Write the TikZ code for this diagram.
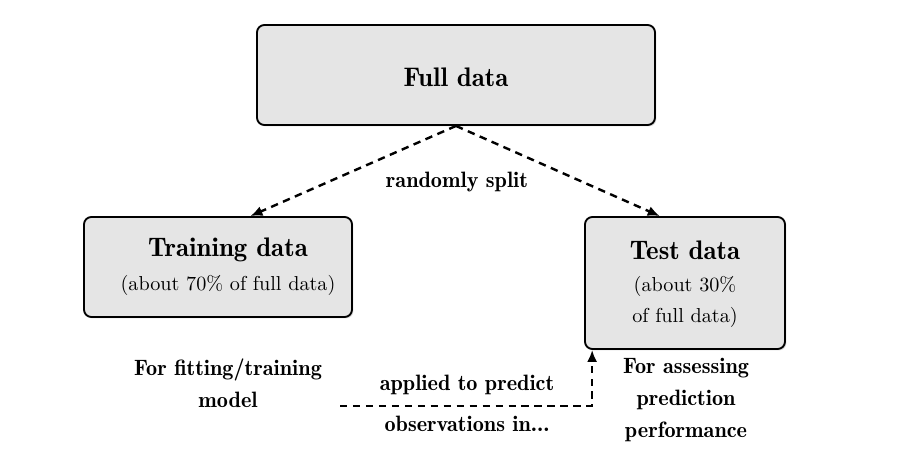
\documentclass[tikz,border=0pt]{standalone}
\usetikzlibrary{arrows.meta,calc,shadows}
\begin{document}
\begin{tikzpicture}[x=0.54pt,y=-0.54pt,
  databox/.style={draw=black,line width=1pt,rounded corners=4pt,fill=black!10,
    drop shadow={opacity=0.25,shadow xshift=0.8pt,shadow yshift=-0.8pt},
    align=center,inner sep=0pt},
  head/.style={font=\fontsize{14.5}{15}\fontseries{b}\selectfont},
  sub/.style={font=\fontsize{10.9}{17}\selectfont},
  lbl/.style={font=\fontsize{12}{17.5}\fontseries{b}\selectfont,align=center},
  dasharrow/.style={line width=1.3pt,dash pattern=on 4pt off 3pt,-{Latex[length=6.5pt,width=5.5pt]}}]
\useasboundingbox (0,0) rectangle (906,475);
\node[databox,minimum width=398*0.54pt,minimum height=100*0.54pt] (full) at (456,75) {};
\node[head] (fulltxt) at (456,77) {Full data};
\node[databox,minimum width=268*0.54pt,minimum height=100*0.54pt] (train) at (218,267) {};
\node[head] (traintxt) at (228,250) {Training data};
\node[sub] (trainsub) at (228,285) {(about 70\% of full data)};
\node[databox,minimum width=200*0.54pt,minimum height=132*0.54pt] (test) at (685,283) {};
\node[head] (testtxt) at (685,250) {Test data};
\node[sub,align=center] (testsub) at (685,302) {(about 30\%\\ of full data)};
\coordinate (trtip) at ($(train.north west)!0.62!(train.north east)$);
\coordinate (tetip) at ($(test.north west)!0.375!(test.north east)$);
\draw[dasharrow] (full.south) -- (trtip);
\draw[dasharrow] (full.south) -- (tetip);
\node[lbl] (split) at (457,182) {randomly split};
\node[lbl] (fit) at (228,383) {For fitting/training\\model};
\node[lbl] (assess) at (686,400) {For assessing\\prediction\\performance};
\node[lbl] (apply1) at (467,385) {applied to predict};
\node[lbl] (apply2) at (467,424) {observations in...};
\coordinate (appstart) at (340,406);
\coordinate (botip) at ($(test.south west)!0.04!(test.south east)$);
\draw[dasharrow] (appstart) -| (botip);
\end{tikzpicture}
\end{document}
